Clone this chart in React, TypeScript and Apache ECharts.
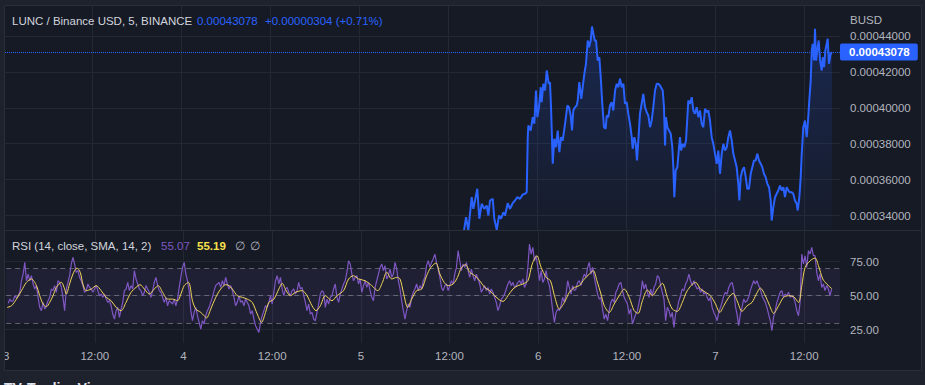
import React, { useEffect, useRef } from 'react';
import * as echarts from 'echarts';

// ---------- data (hours since day 3 00:00) ----------
const dayLabelStart = 3;
const symbolTitle = 'LUNC / Binance USD, 5, BINANCE';
const lastPrice = 0.00043078;
const priceChangeText = '+0.00000304 (+0.71%)';
const quoteCurrency = 'BUSD';
const rsiTitle = 'RSI (14, close, SMA, 14, 2)';
const lastRsi = 55.07;
const lastRsiSma = 55.19;

const priceHours = [
  62.16, 62.43, 62.74, 63.19, 63.41, 63.64, 63.95, 64.22, 64.54, 64.89,
  65.22, 65.44, 65.66, 66.03, 66.24, 66.57, 66.88, 67.15, 67.46, 67.69,
  68.05, 68.36, 68.72, 69.03, 69.35, 69.71, 70.07, 70.38, 70.61, 70.75,
  70.83, 71.15, 71.42, 71.64, 71.86, 72.04, 72.27, 72.5, 72.63, 72.85,
  73.08, 73.31, 73.58, 73.75, 73.89, 74.12, 74.33, 74.56, 74.79, 75.01,
  75.23, 75.46, 75.78, 76.09, 76.31, 76.54, 76.72, 76.89, 77.12, 77.35,
  77.49, 77.7, 77.97, 78.16, 78.38, 78.6, 78.84, 79.01, 79.24, 79.41,
  79.59, 79.78, 79.96, 80.18, 80.4, 80.59, 80.8, 81.03, 81.26, 81.4,
  81.61, 81.84, 82.07, 82.29, 82.52, 82.75, 82.96, 83.19, 83.42, 83.64,
  83.86, 84.09, 84.31, 84.54, 84.77, 84.9, 85.12, 85.31, 85.48, 85.66,
  85.88, 86.11, 86.33, 86.56, 86.79, 87.01, 87.24, 87.46, 87.68, 87.91,
  88.14, 88.35, 88.58, 88.95, 89.12, 89.26, 89.39, 89.57, 89.8, 90.03,
  90.24, 90.38, 90.51, 90.7, 90.92, 91.15, 91.28, 91.42, 91.65, 91.86,
  92.09, 92.27, 92.4, 92.63, 92.86, 93.08, 93.3, 93.53, 93.75, 93.98,
  94.2, 94.42, 94.65, 94.88, 95.1, 95.32, 95.55, 95.77, 96.0, 96.23,
  96.44, 96.67, 96.9, 97.12, 97.35, 97.58, 97.79, 98.02, 98.25, 98.47,
  98.7, 98.92, 99.14, 99.28, 99.46, 99.68, 99.91, 100.14, 100.35, 100.58,
  100.81, 101.03, 101.25, 101.48, 101.7, 101.93, 102.16, 102.37, 102.6, 102.83,
  103.05, 103.28, 103.51, 103.64, 103.86, 104.09, 104.31, 104.53, 104.76, 104.99,
  105.21, 105.43, 105.66, 105.88, 106.11, 106.34, 106.55, 106.78, 107.01, 107.15,
  107.37, 107.55, 107.69, 107.9, 108.13, 108.36, 108.54, 108.71, 108.9, 109.04,
  109.17, 109.35, 109.48, 109.62, 109.79, 109.98, 110.16, 110.39, 110.52, 110.7,
  110.87, 111.06, 111.19, 111.36, 111.59, 111.76,
];

const priceValues = [
  0.00033167, 0.00033906, 0.00033167, 0.00035017, 0.00034372, 0.00034833, 0.00035483, 0.00033817, 0.0003465, 0.00034372,
  0.00034556, 0.00034, 0.00034833, 0.00034928, 0.00033817, 0.00033206, 0.00034, 0.00033817, 0.00034183, 0.00034,
  0.00034683, 0.00034372, 0.00034683, 0.00034833, 0.00035017, 0.00034928, 0.00035167, 0.00035206, 0.00035294, 0.0003835,
  0.00039, 0.00038722, 0.00039461, 0.00039094, 0.00040944, 0.00039461, 0.00040017, 0.00041128, 0.00040294, 0.00041317,
  0.00040944, 0.00042056, 0.00041317, 0.00041406, 0.00040017, 0.00036872, 0.00038261, 0.00037794, 0.00038722, 0.00037517,
  0.0003835, 0.00038167, 0.00039094, 0.00040111, 0.00040017, 0.00039556, 0.00038722, 0.00039833, 0.00040017, 0.00040111,
  0.00040389, 0.00041406, 0.00040483, 0.00041128, 0.00041872, 0.00042428, 0.00043722, 0.0004335, 0.00043722, 0.000445,
  0.00044111, 0.00043722, 0.00043722, 0.00042611, 0.00042794, 0.00041683, 0.00040206, 0.00038906, 0.00038817, 0.00039556,
  0.00039461, 0.00040111, 0.00040294, 0.00039833, 0.00040944, 0.00041317, 0.00041128, 0.00041594, 0.00041128, 0.00041317,
  0.00040206, 0.00040294, 0.0003965, 0.00039094, 0.0003835, 0.00037706, 0.0003835, 0.00037983, 0.00037056, 0.00038167,
  0.0003965, 0.00040206, 0.00040761, 0.00040017, 0.00039739, 0.00039556, 0.00038906, 0.00039278, 0.00040017, 0.00040944,
  0.00041317, 0.00041317, 0.00041222, 0.00040944, 0.00040017, 0.00037889, 0.00039461, 0.00038906, 0.00038722, 0.00038539,
  0.00037794, 0.00036683, 0.00035017, 0.000365, 0.00036683, 0.00037794, 0.0003835, 0.00037611, 0.00037983, 0.00037794,
  0.00038167, 0.00039461, 0.00040389, 0.00040206, 0.00040572, 0.00039833, 0.0003965, 0.00040017, 0.00039461, 0.00039833,
  0.00039094, 0.00038906, 0.00039928, 0.00039739, 0.00039833, 0.00039278, 0.0003835, 0.00037983, 0.00037428, 0.00036872,
  0.00037611, 0.00036317, 0.00037428, 0.00037983, 0.00037611, 0.00037794, 0.0003835, 0.00038722, 0.00038167, 0.00037428,
  0.00037056, 0.00036683, 0.00035761, 0.00034833, 0.00036128, 0.000365, 0.00036683, 0.00036128, 0.00035483, 0.00035483,
  0.00036317, 0.00036683, 0.00037056, 0.00037056, 0.00037428, 0.00037056, 0.00036872, 0.00036683, 0.00036317, 0.00036128,
  0.00035761, 0.00035572, 0.00034833, 0.00033722, 0.00034461, 0.00035017, 0.00035206, 0.00035389, 0.00035667, 0.00035389,
  0.00035572, 0.00035017, 0.00035572, 0.00035389, 0.00035294, 0.00035294, 0.00035206, 0.00034833, 0.0003465, 0.00034278,
  0.00035017, 0.00036128, 0.00037428, 0.00038906, 0.00039278, 0.0003835, 0.00039278, 0.00040389, 0.000415, 0.00043167,
  0.00043539, 0.00042611, 0.00044372, 0.00042611, 0.00043167, 0.00043722, 0.00042611, 0.00042056, 0.00042794, 0.00042239,
  0.00043167, 0.00043539, 0.00043817, 0.00042428, 0.00042983, 0.00043078,
];

// RSI sampled on an even step
const rsiStartHour = 0.27;
const rsiStepHour = 0.2247;
const rsiValues = [
  44.4, 47.5, 45.8, 46.3, 50.0, 48.3, 50.0, 52.5, 61.0, 65.9,
  74.5, 61.0, 65.9, 61.0, 64.7, 58.6, 54.9, 57.4, 48.8, 41.4,
  39.0, 45.1, 40.2, 42.6, 46.3, 48.8, 54.9, 53.7, 57.4, 52.5,
  61.0, 59.8, 56.1, 48.8, 39.0, 54.9, 59.8, 64.7, 73.3, 78.2,
  73.3, 67.2, 68.4, 63.5, 61.0, 57.4, 52.5, 53.7, 58.6, 56.1,
  54.9, 52.5, 54.9, 57.4, 53.7, 50.0, 51.2, 48.8, 51.2, 47.5,
  45.1, 46.3, 42.6, 36.5, 32.8, 39.0, 41.4, 34.1, 40.2, 45.1,
  53.7, 54.9, 59.8, 53.7, 57.4, 54.9, 68.4, 62.3, 58.6, 54.9,
  53.7, 50.0, 52.5, 57.4, 54.9, 52.5, 48.8, 53.7, 59.8, 63.5,
  57.4, 53.7, 52.5, 48.8, 45.1, 48.8, 42.6, 46.3, 45.1, 43.9,
  47.5, 42.6, 47.5, 56.1, 63.5, 70.8, 74.5, 65.9, 61.0, 53.7,
  39.0, 31.6, 37.7, 41.4, 35.3, 30.4, 25.5, 31.6, 29.2, 35.3,
  39.0, 41.4, 45.1, 48.8, 53.7, 57.4, 58.6, 59.8, 56.1, 61.0,
  57.4, 63.5, 58.6, 54.9, 57.4, 53.7, 48.8, 42.6, 45.1, 50.0,
  45.1, 46.3, 42.6, 47.5, 45.1, 42.6, 36.5, 39.0, 32.8, 27.9,
  25.5, 23.0, 30.4, 35.3, 39.0, 42.6, 41.4, 45.1, 50.0, 43.9,
  52.5, 61.0, 64.7, 58.6, 63.5, 54.9, 50.0, 54.9, 56.1, 52.5,
  50.0, 53.7, 54.9, 51.2, 53.7, 59.8, 54.9, 56.1,
  50.0, 45.1, 39.0, 43.9, 36.5, 37.7, 32.8, 31.6, 37.7, 43.9,
  51.2, 53.7, 52.5, 41.4, 47.5, 43.9, 48.8, 50.0, 54.9, 58.6,
  48.8, 45.1, 51.2, 54.9, 58.6, 61.0, 67.2, 75.7, 73.3, 65.9,
  61.0, 63.5, 64.7, 58.6, 62.3, 52.5, 57.4, 61.0, 56.1, 59.8,
  53.7, 48.8, 46.3, 56.1, 61.0, 65.9, 70.8, 73.3, 68.4, 72.1,
  62.3, 64.7, 69.6, 63.5, 65.9, 74.5, 69.6, 61.0, 54.9, 46.3,
  39.0, 32.8, 39.0, 43.9, 41.4, 48.8, 52.5, 54.9, 58.6, 53.7,
  57.4, 54.9, 61.0, 63.5, 72.1, 75.7, 70.8, 74.5, 77.0, 80.6,
  74.5, 69.6, 63.5, 56.1, 53.7, 57.4, 58.6, 53.7, 57.4, 61.0,
  58.6, 65.9, 70.8, 83.1, 75.7, 68.4, 73.3, 70.8, 74.5, 68.4,
  63.5, 69.6, 64.7, 61.0, 65.9, 62.3, 58.6, 52.5, 54.9, 57.4,
  53.7, 56.1, 51.2, 54.9, 52.5, 48.8, 45.1, 39.0, 42.6, 47.5,
  48.8, 51.2, 54.9, 58.6, 61.0, 57.4, 59.8, 56.1, 57.4, 59.8,
  61.0, 58.6, 62.3, 56.1, 58.6, 70.8, 88.0, 80.6, 85.5, 75.7,
  79.4, 70.8, 61.0, 68.4, 59.8, 62.3, 68.4, 61.0, 57.4, 48.8,
  39.0, 30.4, 37.7, 40.2, 39.0, 42.6, 48.8, 45.1, 51.2, 61.0,
  56.1, 51.2, 57.4, 53.7, 54.9, 59.8, 61.0, 57.4, 62.3, 65.9,
  63.5, 70.8, 74.5, 65.9, 70.8, 63.5, 57.4, 51.2, 47.5, 48.8,
  40.2, 32.8, 36.5, 31.6, 39.0, 45.1, 47.5, 45.1, 52.5, 54.9,
  58.6, 59.8, 53.7, 48.8, 46.3, 43.9, 36.5, 40.2, 29.2, 32.8,
  36.5, 39.0, 45.1, 51.2, 61.0, 54.9, 58.6, 52.5, 48.8, 54.9,
  50.0, 56.1, 58.6, 64.7, 63.5, 57.4, 52.5, 47.5, 31.6, 41.4,
  39.0, 34.1, 37.7, 26.7, 36.5, 40.2, 46.3, 50.0, 54.9, 53.7,
  58.6, 61.0, 65.9, 61.0, 57.4, 61.0, 57.4, 54.9, 56.1, 52.5,
  54.9, 51.2, 52.5, 48.8, 46.3, 48.8, 41.4, 37.7, 35.3, 31.6,
  37.7, 41.4, 45.1, 50.0, 52.5, 51.2, 56.1, 58.6, 59.8, 54.9,
  42.6, 36.5, 27.9, 36.5, 41.4, 47.5, 45.1, 46.3, 48.8, 53.7,
  57.4, 61.0, 58.6, 61.0, 57.4, 54.9, 50.0, 47.5, 45.1, 41.4,
  36.5, 31.6, 24.3, 34.1, 39.0, 45.1, 48.8, 52.5, 53.7, 48.8,
  51.2, 50.0, 52.5, 48.8, 50.0, 48.8, 45.1, 39.0, 35.3, 45.1,
  80.6, 73.3, 79.4, 70.8, 83.1, 80.6, 85.5, 79.4, 79.4, 67.2,
  61.0, 65.9, 56.1, 58.6, 53.7, 57.4, 54.9, 50.0, 55.07,
];

const smaHours = [
  0.13, 0.72, 1.39, 2.07, 2.74, 3.42, 4.09, 4.54, 4.99, 5.44,
  5.89, 6.34, 6.79, 7.46, 7.91, 8.13, 8.58, 9.03, 9.57, 10.02,
  10.38, 10.83, 11.51, 12.18, 12.85, 13.53, 14.2, 14.88, 15.55, 16.22,
  16.9, 17.57, 18.11, 18.7, 19.37, 20.04, 20.58, 21.17, 21.84, 22.52,
  23.19, 23.64, 24.09, 24.67, 25.21, 25.66, 26.34, 26.79, 27.1, 27.69,
  28.36, 29.03, 29.71, 30.16, 30.61, 31.28, 31.96, 32.63, 33.3, 33.98,
  34.56, 35.1, 35.55, 36.23, 36.9, 37.35, 37.89, 38.47, 39.15, 40.05,
  40.72, 41.39, 41.93, 42.52, 43.19, 44.09, 44.76, 45.66, 46.34, 47.01,
  47.69, 48.58, 49.48, 50.29, 50.92, 51.51, 52.18, 52.85, 53.3, 53.75,
  54.34, 54.88, 55.55, 56.23, 56.9, 57.48, 58.16, 58.7, 59.28, 59.82,
  60.49, 61.08, 61.62, 62.16, 62.74, 63.42, 64.09, 64.76, 65.44, 66.11,
  66.79, 67.24, 67.91, 68.58, 69.26, 69.93, 70.61, 71.19, 71.82, 72.4,
  73.08, 73.66, 74.2, 74.88, 75.55, 76.22, 76.9, 77.57, 78.25, 78.92,
  79.46, 79.95, 80.5, 80.95, 81.62, 82.29, 82.97, 83.64, 84.32, 84.99,
  85.53, 86.11, 86.79, 87.46, 88.13, 88.81, 89.48, 90.16, 90.83, 91.51,
  92.18, 93.3, 93.98, 94.65, 95.32, 96.0, 96.58, 97.12, 97.8, 98.38,
  98.92, 99.59, 100.27, 100.94, 101.53, 102.07, 102.74, 103.33, 103.87, 104.54,
  105.21, 105.89, 106.56, 107.24, 107.68, 108.13, 108.81, 109.48, 109.93, 110.52,
  111.06, 111.73,
];

const smaValues = [
  41.4, 42.6, 47.5, 53.7, 59.8, 62.3, 57.4, 50.0, 43.9, 41.9,
  45.1, 50.0, 56.1, 59.8, 54.9, 51.2, 58.6, 65.9, 70.3, 67.2,
  58.6, 53.7, 54.9, 57.4, 53.7, 48.8, 46.3, 41.4, 39.0, 45.1,
  52.5, 56.1, 58.1, 54.9, 51.2, 54.9, 57.4, 52.5, 47.5, 47.5,
  46.3, 51.2, 57.4, 59.8, 46.3, 40.2, 37.7, 35.3, 33.6, 40.2,
  48.8, 54.9, 58.1, 57.4, 54.9, 50.0, 48.8, 47.5, 45.1, 36.5,
  30.4, 37.7, 45.1, 47.5, 54.9, 59.1, 53.7, 50.0, 52.5, 53.7,
  50.0, 42.6, 39.0, 42.6, 50.0, 46.3, 50.0, 53.7, 62.3, 64.7,
  62.3, 61.0, 57.4, 53.7, 59.8, 67.2, 62.3, 63.5, 62.3, 52.5,
  41.4, 47.5, 53.7, 54.9, 64.7, 70.8, 74.0, 65.9, 59.8, 57.4,
  58.6, 63.5, 70.8, 72.8, 67.2, 64.7, 61.0, 56.1, 53.7, 50.0,
  46.8, 45.8, 50.0, 54.9, 57.4, 58.6, 61.0, 73.3, 79.4, 70.8,
  63.5, 61.0, 50.0, 40.2, 45.1, 52.5, 56.1, 57.4, 62.3, 65.9,
  68.4, 61.0, 51.2, 42.6, 37.7, 43.9, 50.0, 54.9, 48.8, 39.0,
  37.0, 46.3, 54.2, 50.0, 54.9, 59.1, 48.8, 40.2, 38.5, 45.1,
  53.7, 59.8, 54.9, 52.5, 50.0, 43.9, 37.7, 42.6, 48.8, 51.7,
  46.3, 38.5, 42.6, 45.1, 51.2, 55.6, 50.0, 42.6, 37.0, 42.6,
  48.8, 50.0, 49.3, 45.1, 57.4, 70.8, 75.7, 77.7, 72.1, 62.3,
  58.6, 55.19,
];

const rsiLevels = [70, 50, 30];

// ---------- layout / style ----------
const FONT = '"Liberation Sans", Arial, sans-serif';
const BG = '#161a25';
const OUTER = '#1e222d';
const GRID_COLOR = '#242833';
const BORDER = '#2a2e39';
const TEXT = '#d1d4dc';
const AXIS_TEXT = '#b2b5be';
const BLUE = '#2962ff';
const PURPLE = '#7e57c2';
const YELLOW = '#f2d65c';

const GRID_LEFT = 3;
const GRID_RIGHT = 85;
const X_MAX = 112.85;

// price label axis geometry
const P_MIN = 0.00032;
const P_MAX = 0.00046;
const P_STEP = 0.00002;
const P_TOP = -0.5;
const P_H = 252;
const PANE1_TOP = 5.5;
const PANE1_BOTTOM = 230;
const pxPerPrice = P_H / (P_MAX - P_MIN);
const paneMaxPrice = P_MAX - (PANE1_TOP - P_TOP) / pxPerPrice;
const paneMinPrice = P_MAX - (PANE1_BOTTOM - P_TOP) / pxPerPrice;

// RSI label axis geometry
const R_TOP = 227.7;
const R_H = 136;
const PANE2_TOP = 231;
const PANE2_BOTTOM = 343;
const pxPerRsi = R_H / 100;
const paneMaxRsi = 100 - (PANE2_TOP - R_TOP) / pxPerRsi;
const paneMinRsi = 100 - (PANE2_BOTTOM - R_TOP) / pxPerRsi;

function textEl(x: number, y: number, text: string, fill: string, bold = false, size = 11.5) {
  return {
    type: 'text',
    x,
    y,
    z: 100,
    silent: true,
    style: {
      text,
      fill,
      fontFamily: FONT,
      fontSize: size,
      fontWeight: bold ? 'bold' : 'normal',
      textAlign: 'left',
      textVerticalAlign: 'middle',
    },
  };
}

export default function App() {
  const ref = useRef<HTMLDivElement>(null);

  useEffect(() => {
    if (!ref.current) return;
    const chart = echarts.init(ref.current, null, { renderer: 'svg' });

    const priceData = priceHours.map((h, i) => [h, priceValues[i]]);
    const rsiData = rsiValues.map((v, i) => [rsiStartHour + i * rsiStepHour, v]);
    const smaData = smaHours.map((h, i) => [h, smaValues[i]]);

    const xBase = {
      type: 'value',
      min: 0,
      max: X_MAX,
      interval: 12,
      axisLine: { show: false },
      axisTick: { show: false },
    };

    const option = {
      animation: false,
      backgroundColor: BG,
      grid: [
        { left: GRID_LEFT, right: GRID_RIGHT, top: PANE1_TOP, height: PANE1_BOTTOM - PANE1_TOP },
        { left: GRID_LEFT, right: GRID_RIGHT, top: P_TOP, height: P_H },
        { left: GRID_LEFT, right: GRID_RIGHT, top: PANE2_TOP, height: PANE2_BOTTOM - PANE2_TOP },
        { left: GRID_LEFT, right: GRID_RIGHT, top: R_TOP, height: R_H },
      ],
      xAxis: [
        {
          ...xBase,
          gridIndex: 0,
          axisLabel: { show: false },
          splitLine: { show: true, showMinLine: false, showMaxLine: false, lineStyle: { color: GRID_COLOR, width: 1 } },
        },
        { ...xBase, gridIndex: 1, show: false },
        {
          ...xBase,
          gridIndex: 2,
          axisLabel: {
            show: true,
            color: AXIS_TEXT,
            fontFamily: FONT,
            fontSize: 11.5,
            margin: 7,
            showMaxLabel: false,
            formatter: (v: number) => {
              if (Math.abs(v % 24) < 1e-6) return String(dayLabelStart + v / 24);
              if (Math.abs(v % 12) < 1e-6) return '12:00';
              return '';
            },
          },
          splitLine: { show: true, showMinLine: false, showMaxLine: false, lineStyle: { color: GRID_COLOR, width: 1 } },
        },
        { ...xBase, gridIndex: 3, show: false },
      ],
      yAxis: [
        { type: 'value', gridIndex: 0, min: paneMinPrice, max: paneMaxPrice, show: false, splitLine: { show: false } },
        {
          type: 'value',
          gridIndex: 1,
          position: 'right',
          min: P_MIN,
          max: P_MAX,
          interval: P_STEP,
          axisLine: { show: false },
          axisTick: { show: false },
          axisLabel: {
            color: AXIS_TEXT,
            fontFamily: FONT,
            fontSize: 11.5,
            margin: 10,
            showMinLabel: false,
            showMaxLabel: false,
            formatter: (v: number) => v.toFixed(8),
          },
          splitLine: { show: true, showMinLine: false, showMaxLine: false, lineStyle: { color: GRID_COLOR, width: 1 } },
        },
        { type: 'value', gridIndex: 2, min: paneMinRsi, max: paneMaxRsi, show: false, splitLine: { show: false } },
        {
          type: 'value',
          gridIndex: 3,
          position: 'right',
          min: 0,
          max: 100,
          interval: 25,
          axisLine: { show: false },
          axisTick: { show: false },
          axisLabel: {
            color: AXIS_TEXT,
            fontFamily: FONT,
            fontSize: 11.5,
            margin: 10,
            showMinLabel: false,
            showMaxLabel: false,
            formatter: (v: number) => v.toFixed(2),
          },
          splitLine: { show: true, showMinLine: false, showMaxLine: false, lineStyle: { color: GRID_COLOR, width: 1 } },
        },
      ],
      series: [
        {
          type: 'line',
          xAxisIndex: 0,
          yAxisIndex: 0,
          data: priceData,
          symbol: 'none',
          z: 3,
          lineStyle: { color: BLUE, width: 2 },
          areaStyle: {
            color: new echarts.graphic.LinearGradient(0, 0, 0, 1, [
              { offset: 0, color: 'rgba(41,98,255,0.28)' },
              { offset: 1, color: 'rgba(41,98,255,0.03)' },
            ]),
          },
          markLine: {
            silent: true,
            symbol: 'none',
            precision: 8,
            z: 5,
            lineStyle: { color: BLUE, type: 'dotted', width: 1 },
            label: {
              show: true,
              position: 'end',
              distance: 0,
              formatter: () => lastPrice.toFixed(8),
              color: '#ffffff',
              backgroundColor: BLUE,
              fontFamily: FONT,
              fontSize: 11.5,
              fontWeight: 'bold',
              padding: [3, 8, 2, 9],
              borderRadius: 2,
            },
            data: [{ yAxis: lastPrice }],
          },
        },
        {
          type: 'line',
          xAxisIndex: 2,
          yAxisIndex: 2,
          data: rsiData,
          symbol: 'none',
          z: 3,
          lineStyle: { color: PURPLE, width: 1.2 },
          markArea: {
            silent: true,
            z: 1,
            itemStyle: { color: 'rgba(126,87,194,0.1)' },
            data: [[{ yAxis: rsiLevels[0] }, { yAxis: rsiLevels[2] }]],
          },
          markLine: {
            silent: true,
            symbol: 'none',
            z: 2,
            label: { show: false },
            lineStyle: { color: 'rgba(120,123,134,0.75)', type: [5, 4], width: 1 },
            data: rsiLevels.map((l) => ({ yAxis: l })),
          },
        },
        {
          type: 'line',
          xAxisIndex: 2,
          yAxisIndex: 2,
          data: smaData,
          symbol: 'none',
          smooth: 0.3,
          z: 4,
          lineStyle: { color: YELLOW, width: 1 },
        },
      ],
      graphic: [
        { type: 'rect', silent: true, z: 90, shape: { x: 0, y: 370.5, width: 925, height: 15 }, style: { fill: OUTER } },
        { type: 'rect', silent: true, z: 90, shape: { x: 0, y: 0, width: 925, height: 5 }, style: { fill: OUTER } },
        { type: 'rect', silent: true, z: 90, shape: { x: 0, y: 0, width: 4, height: 385 }, style: { fill: OUTER } },
        { type: 'rect', silent: true, z: 90, shape: { x: 922, y: 0, width: 3, height: 385 }, style: { fill: OUTER } },
        {
          type: 'rect', silent: true, z: 95,
          shape: { x: 4.5, y: 5.5, width: 917, height: 365 },
          style: { fill: 'none', stroke: BORDER, lineWidth: 1 },
        },
        {
          type: 'line', silent: true, z: 95,
          shape: { x1: 4, y1: 230.5, x2: 922, y2: 230.5 },
          style: { stroke: BORDER, lineWidth: 1 },
        },
        textEl(12, 21, symbolTitle, TEXT),
        textEl(197, 21, lastPrice.toFixed(8), BLUE),
        textEl(265, 21, priceChangeText, BLUE),
        textEl(850, 20, quoteCurrency, AXIS_TEXT),
        textEl(12, 246, rsiTitle, TEXT),
        textEl(161, 246, lastRsi.toFixed(2), PURPLE),
        textEl(197, 246, lastRsiSma.toFixed(2), '#f7e24b', true),
        textEl(235, 246, '\u2205', AXIS_TEXT),
        textEl(250, 246, '\u2205', AXIS_TEXT),
        {
          type: 'text', x: 4, y: 381, z: 100, silent: true,
          style: { text: 'TV', fill: '#e0e3eb', fontFamily: FONT, fontSize: 14, fontWeight: 'bold', textVerticalAlign: 'top' },
        },
        {
          type: 'text', x: 27, y: 381, z: 100, silent: true,
          style: { text: 'TradingView', fill: '#e0e3eb', fontFamily: FONT, fontSize: 14, fontWeight: 'bold', textVerticalAlign: 'top' },
        },
      ],
    };

    chart.setOption(option as any);
    return () => chart.dispose();
  }, []);

  return (
    <div
      ref={ref}
      style={{ position: 'fixed', left: 0, top: 0, width: 925, height: 385 }}
    />
  );
}
